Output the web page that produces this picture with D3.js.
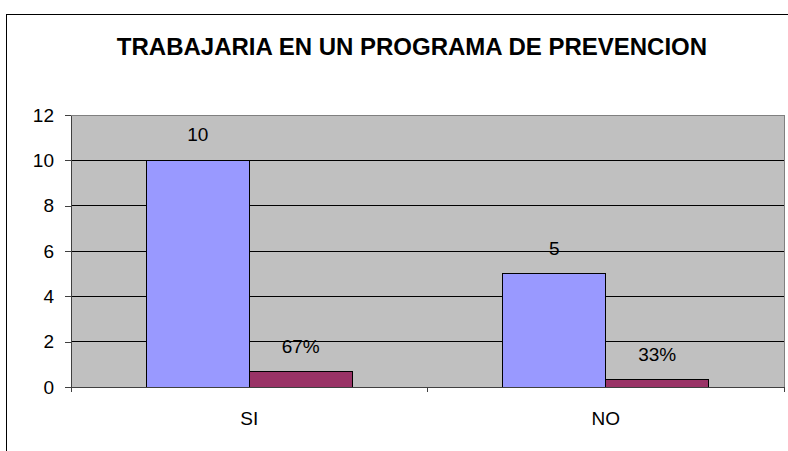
<!DOCTYPE html>
<html>
<head>
<meta charset="utf-8">
<script src="https://cdn.jsdelivr.net/npm/d3@7"></script>
<style>
  body { margin: 0; background: #fff; }
  text { font-family: Arial, "Liberation Sans", sans-serif; fill: #000; }
</style>
</head>
<body>
<div id="chart"></div>
<script>
"use strict";

// data
var categories = ["SI", "NO"];
var counts = [10, 5];
var percents = [0.67, 0.33];
var percentLabels = ["67%", "33%"];
var yTicks = [0, 2, 4, 6, 8, 10, 12];
var title = "TRABAJARIA EN UN PROGRAMA DE PREVENCION";

var width = 788, height = 451;
var plot = { left: 71, right: 784, top: 115, bottom: 387 };

var svg = d3.select("#chart").append("svg")
    .attr("width", width)
    .attr("height", height);

// outer chart frame (runs off the right and bottom edges)
svg.append("rect")
    .attr("x", 6.5)
    .attr("y", 14.5)
    .attr("width", 900)
    .attr("height", 600)
    .attr("fill", "#fff")
    .attr("stroke", "#000");

svg.append("text")
    .attr("x", 412)
    .attr("y", 55)
    .attr("text-anchor", "middle")
    .style("font-size", "24px")
    .style("font-weight", "bold")
    .text(title);

var x0 = d3.scaleBand()
    .domain(categories)
    .range([plot.left, plot.right])
    .paddingInner(0.4222)
    .paddingOuter(0.2111);

var x1 = d3.scaleBand()
    .domain(["count", "pct"])
    .range([0, x0.bandwidth()]);

var y = d3.scaleLinear()
    .domain([0, 12])
    .range([plot.bottom, plot.top]);

var g = svg.append("g").style("shape-rendering", "crispEdges");

// plot area
g.append("rect")
    .attr("x", plot.left)
    .attr("y", plot.top)
    .attr("width", plot.right - plot.left)
    .attr("height", plot.bottom - plot.top)
    .attr("fill", "#c0c0c0")
    .attr("stroke", "#808080");

// gridlines
g.selectAll(".grid")
    .data(yTicks.filter(function (d) { return d > 0 && d < 12; }))
    .enter().append("line")
    .attr("class", "grid")
    .attr("x1", plot.left)
    .attr("x2", plot.right)
    .attr("y1", function (d) { return y(d); })
    .attr("y2", function (d) { return y(d); })
    .attr("stroke", "#000");

// y axis
var yAxis = svg.append("g")
    .attr("transform", "translate(" + plot.left + ",0)")
    .style("shape-rendering", "crispEdges")
    .call(d3.axisLeft(y).tickValues(yTicks).tickSize(6).tickPadding(11).tickSizeOuter(0));
yAxis.select(".domain").attr("stroke", "#404040");
yAxis.selectAll(".tick line").attr("stroke", "#404040");
yAxis.selectAll(".tick text")
    .style("font-size", "19px")
    .attr("font-family", null);

// bars
var groups = g.selectAll(".grp")
    .data(categories)
    .enter().append("g")
    .attr("class", "grp")
    .attr("transform", function (d) { return "translate(" + x0(d) + ",0)"; });

groups.append("rect")
    .attr("x", x1("count"))
    .attr("y", function (d, i) { return y(counts[i]); })
    .attr("width", x1.bandwidth())
    .attr("height", function (d, i) { return y(0) - y(counts[i]); })
    .attr("fill", "#9999ff")
    .attr("stroke", "#000");

groups.append("rect")
    .attr("x", x1("pct"))
    .attr("y", function (d, i) { return y(percents[i]); })
    .attr("width", x1.bandwidth())
    .attr("height", function (d, i) { return y(0) - y(percents[i]); })
    .attr("fill", "#993366")
    .attr("stroke", "#000");

// x axis
var xAxis = svg.append("g")
    .attr("transform", "translate(0," + plot.bottom + ")")
    .style("shape-rendering", "crispEdges");
xAxis.append("line")
    .attr("x1", plot.left)
    .attr("x2", plot.right)
    .attr("stroke", "#404040");
xAxis.selectAll(".xtick")
    .data([plot.left, (plot.left + plot.right) / 2, plot.right])
    .enter().append("line")
    .attr("x1", function (d) { return d; })
    .attr("x2", function (d) { return d; })
    .attr("y2", 5)
    .attr("stroke", "#404040");
xAxis.selectAll(".xlabel")
    .data(categories)
    .enter().append("text")
    .attr("x", function (d) { return x0(d) + x0.bandwidth() / 2; })
    .attr("y", 38)
    .attr("text-anchor", "middle")
    .style("font-size", "19px")
    .text(function (d) { return d; });

// data labels
groups.append("text")
    .attr("x", x1("count") + x1.bandwidth() / 2)
    .attr("y", function (d, i) { return y(counts[i]) - 19; })
    .attr("text-anchor", "middle")
    .style("font-size", "19px")
    .text(function (d, i) { return counts[i]; });

groups.append("text")
    .attr("x", x1("pct") + x1.bandwidth() / 2)
    .attr("y", function (d, i) { return y(percents[i]) - 19; })
    .attr("text-anchor", "middle")
    .style("font-size", "19px")
    .text(function (d, i) { return percentLabels[i]; });
</script>
</body>
</html>
